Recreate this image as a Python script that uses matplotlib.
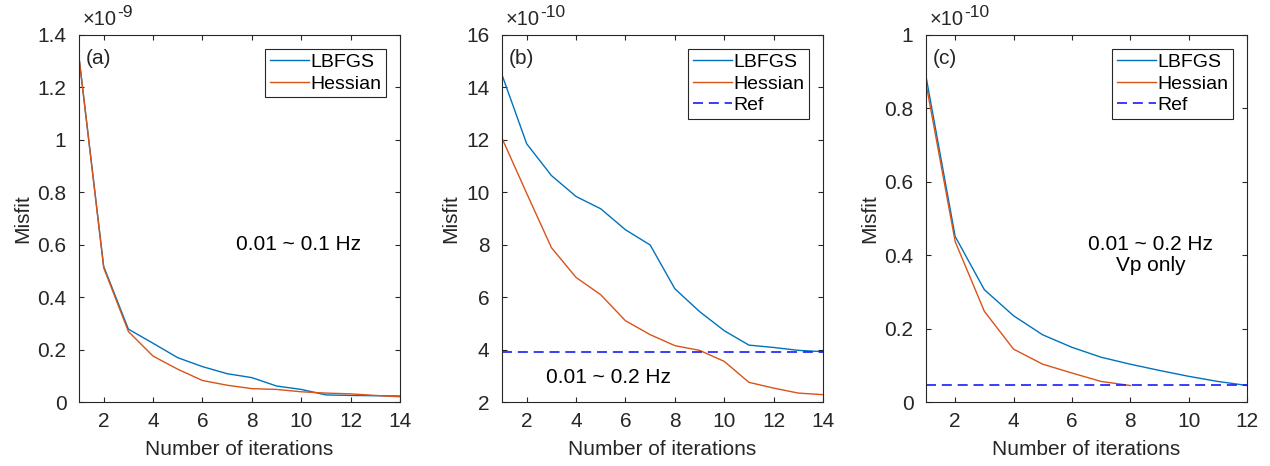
import numpy as np
import matplotlib
matplotlib.use('Agg')
import matplotlib.pyplot as plt
from matplotlib.ticker import FuncFormatter

plt.rcParams['font.family'] = ['Liberation Sans', 'DejaVu Sans']

# misfit per iteration, three runs
iters_ab = np.arange(1, 15)
iters_c = np.arange(1, 13)

lbfgs_a = np.array([1.315, 0.517, 0.278, 0.224, 0.169, 0.135, 0.108, 0.093, 0.061, 0.048, 0.027, 0.025, 0.024, 0.023]) * 1e-9
hess_a = np.array([1.315, 0.512, 0.269, 0.175, 0.125, 0.082, 0.064, 0.051, 0.048, 0.039, 0.034, 0.031, 0.025, 0.020]) * 1e-9

lbfgs_b = np.array([14.48, 11.85, 10.64, 9.84, 9.37, 8.57, 7.99, 6.32, 5.45, 4.72, 4.17, 4.08, 3.97, 3.92]) * 1e-10
hess_b = np.array([12.06, 9.96, 7.89, 6.75, 6.09, 5.10, 4.57, 4.15, 3.97, 3.55, 2.75, 2.53, 2.34, 2.28]) * 1e-10
ref_b = 3.92e-10

lbfgs_c = np.array([0.887, 0.451, 0.306, 0.235, 0.183, 0.149, 0.122, 0.103, 0.086, 0.070, 0.056, 0.045]) * 1e-10
hess_c = np.array([0.868, 0.437, 0.247, 0.144, 0.103, 0.079, 0.056, 0.045]) * 1e-10
ref_c = 0.045e-10

panel = ['(a)', '(b)', '(c)']
band = ['0.01 ~ 0.1 Hz', '0.01 ~ 0.2 Hz', '0.01 ~ 0.2 Hz\nVp only']
band_xy = [(9.9, 0.60e-9), (5.3, 2.95e-10), (8.7, 0.40e-10)]
exponent = [-9, -10, -10]
ylims = [(0, 1.4e-9), (2e-10, 16e-10), (0, 1e-10)]
yticks = [np.arange(0, 1.41, 0.2) * 1e-9, np.arange(2, 16.1, 2) * 1e-10, np.arange(0, 1.01, 0.2) * 1e-10]

c_lbfgs = '#0072BD'
c_hess = '#D95319'
c_ref = '#1a1aff'
dark = '#262626'

W, H = 1270, 466
fig = plt.figure(figsize=(W / 100, H / 100), dpi=100)
lefts = [79, 502, 926]
axarr = [fig.add_axes([l / W, (H - 402) / H, 321 / W, 367 / H]) for l in lefts]

# curves
axarr[0].plot(iters_ab, lbfgs_a, color=c_lbfgs, lw=1.0, label='LBFGS')
axarr[0].plot(iters_ab, hess_a, color=c_hess, lw=1.0, label='Hessian')

axarr[1].plot(iters_ab, lbfgs_b, color=c_lbfgs, lw=1.0, label='LBFGS')
axarr[1].plot(iters_ab, hess_b, color=c_hess, lw=1.0, label='Hessian')
axarr[1].plot(iters_ab, np.full(iters_ab.size, ref_b), color=c_ref, lw=1.2, dashes=(6, 3.5), label='Ref')

axarr[2].plot(iters_c, lbfgs_c, color=c_lbfgs, lw=1.0, label='LBFGS')
axarr[2].plot(iters_c[:hess_c.size], hess_c, color=c_hess, lw=1.0, label='Hessian')
axarr[2].plot(iters_c, np.full(iters_c.size, ref_c), color=c_ref, lw=1.2, dashes=(6, 3.5), label='Ref')

for i, ax in enumerate(axarr):
    xmax = 12 if i == 2 else 14
    ax.set_xlim(1, xmax)
    ax.set_xticks(np.arange(2, xmax + 0.1, 2))
    ax.set_ylim(*ylims[i])
    ax.set_yticks(yticks[i])
    scale = 10.0 ** exponent[i]
    ax.yaxis.set_major_formatter(FuncFormatter(lambda v, p, s=scale: '%g' % round(v / s, 6)))

    for s in ax.spines.values():
        s.set_color(dark)
        s.set_linewidth(0.8)
    ax.tick_params(direction='in', top=True, right=True, length=3.5, width=0.8,
                   colors=dark, labelsize=15)
    ax.tick_params(axis='x', pad=7)
    ax.tick_params(axis='y', pad=9)

    ax.set_xlabel('Number of iterations', fontsize=15, color=dark, labelpad=7)
    ax.set_ylabel('Misfit', fontsize=15, color=dark, labelpad=4)

    # exponent above the y axis
    t = ax.text(0.01, 1.015, '\u00d710', transform=ax.transAxes, fontsize=14.5,
                color=dark, ha='left', va='bottom')
    ax.annotate('%d' % exponent[i], xy=(1.02, 0.5), xycoords=t, fontsize=12.5,
                color=dark, ha='left', va='bottom')

    ax.text(0.02, 0.935, panel[i], transform=ax.transAxes, fontsize=15,
            color=dark, ha='left', va='center')
    ax.text(band_xy[i][0], band_xy[i][1], band[i], fontsize=15, color='black',
            ha='center', va='center', linespacing=1.1)

    leg = ax.legend(loc='upper right', fontsize=14, frameon=True, fancybox=False,
                    borderpad=0.25, labelspacing=0.2, handlelength=2.0,
                    handletextpad=0.1, borderaxespad=0.7)
    leg.get_frame().set_edgecolor(dark)
    leg.get_frame().set_linewidth(0.8)
    leg.get_frame().set_alpha(1)

fig.savefig('out.png', dpi=100)
